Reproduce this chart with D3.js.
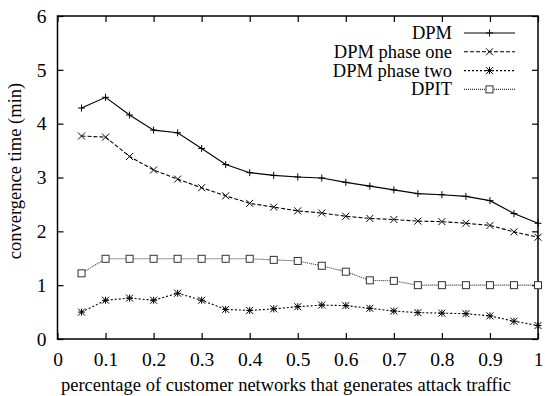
<!DOCTYPE html>
<html>
<head>
<meta charset="utf-8">
<script src="https://cdn.jsdelivr.net/npm/d3@7"></script>
<style>
  body { margin: 0; background: #fff; }
  svg { display: block; font-family: "Liberation Serif", "DejaVu Serif", serif; }
</style>
</head>
<body>
<svg id="chart" width="545" height="396"></svg>
<script>
// data
const xValues = [0.05, 0.1, 0.15, 0.2, 0.25, 0.3, 0.35, 0.4, 0.45, 0.5,
                 0.55, 0.6, 0.65, 0.7, 0.75, 0.8, 0.85, 0.9, 0.95, 1.0];
const dpm = [4.29, 4.49, 4.16, 3.88, 3.83, 3.54, 3.24, 3.09, 3.04, 3.01,
             2.99, 2.91, 2.84, 2.77, 2.70, 2.68, 2.65, 2.57, 2.33, 2.15];
const dpmPhaseOne = [3.77, 3.75, 3.39, 3.14, 2.97, 2.81, 2.66, 2.52, 2.45, 2.38,
                     2.34, 2.28, 2.24, 2.22, 2.19, 2.18, 2.15, 2.11, 1.99, 1.89];
const dpmPhaseTwo = [0.50, 0.72, 0.76, 0.72, 0.85, 0.72, 0.55, 0.53, 0.56, 0.60,
                     0.63, 0.62, 0.57, 0.52, 0.49, 0.48, 0.47, 0.43, 0.33, 0.25];
const dpit = [1.22, 1.49, 1.49, 1.49, 1.49, 1.49, 1.49, 1.49, 1.47, 1.45,
              1.36, 1.25, 1.09, 1.08, 1.0, 1.0, 1.0, 1.0, 1.0, 1.0];
const xTicks = [0, 0.1, 0.2, 0.3, 0.4, 0.5, 0.6, 0.7, 0.8, 0.9, 1];
const yTicks = [0, 1, 2, 3, 4, 5, 6];

const series = [
    { name: "DPM", values: dpm, dash: null, marker: "plus", color: "#000" },
    { name: "DPM phase one", values: dpmPhaseOne, dash: "4,2", marker: "cross", color: "#000" },
    { name: "DPM phase two", values: dpmPhaseTwo, dash: "2,2", marker: "star", color: "#000" },
    { name: "DPIT", values: dpit, dash: "1,1", marker: "square", color: "#333" },
];

const svg = d3.select("#chart");
const margin = { left: 57.5, right: 7, top: 16, bottom: 57 };
const width = +svg.attr("width");
const height = +svg.attr("height");

const x = d3.scaleLinear().domain([0, 1]).range([margin.left, width - margin.right]);
const y = d3.scaleLinear().domain([0, 6]).range([height - margin.bottom, margin.top]);

// axes with inward ticks on all four sides
const tickLen = 6;
svg.append("g")
    .attr("transform", `translate(0,${y(0)})`)
    .call(d3.axisBottom(x).tickValues(xTicks).tickSize(-tickLen).tickPadding(13)
        .tickFormat(d => d === 0 || d === 1 ? d3.format("d")(d) : d3.format(".1f")(d)))
    .call(g => g.select(".domain").remove());
svg.append("g")
    .attr("transform", `translate(0,${y(6)})`)
    .call(d3.axisTop(x).tickValues(xTicks).tickSize(-tickLen).tickFormat(""))
    .call(g => g.select(".domain").remove());
svg.append("g")
    .attr("transform", `translate(${x(0)},0)`)
    .call(d3.axisLeft(y).tickValues(yTicks).tickSize(-tickLen).tickPadding(11).tickFormat(d3.format("d")))
    .call(g => g.select(".domain").remove());
svg.append("g")
    .attr("transform", `translate(${x(1)},0)`)
    .call(d3.axisRight(y).tickValues(yTicks).tickSize(-tickLen).tickFormat(""))
    .call(g => g.select(".domain").remove());

svg.selectAll(".tick line").attr("stroke", "#000").attr("stroke-width", 1.2);
svg.selectAll(".tick text")
    .attr("font-family", "Liberation Serif, serif")
    .attr("font-size", 19.5)
    .attr("fill", "#000");

svg.append("rect")
    .attr("x", x(0)).attr("y", y(6))
    .attr("width", x(1) - x(0)).attr("height", y(0) - y(6))
    .attr("fill", "none").attr("stroke", "#000").attr("stroke-width", 1.5);

// axis titles
svg.append("text")
    .attr("x", 286)
    .attr("y", 391)
    .attr("text-anchor", "middle")
    .attr("font-size", 18.5)
    .text("percentage of customer networks that generates attack traffic");

svg.append("text")
    .attr("transform", `translate(21,171) rotate(-90)`)
    .attr("text-anchor", "middle")
    .attr("font-size", 18.5)
    .text("convergence time (min)");

function drawMarker(g, type, cx, cy, color) {
    const s = 3.5;
    if (type === "plus" || type === "star") {
        g.append("line").attr("x1", cx - s).attr("x2", cx + s).attr("y1", cy).attr("y2", cy).attr("stroke", color);
        g.append("line").attr("x1", cx).attr("x2", cx).attr("y1", cy - s).attr("y2", cy + s).attr("stroke", color);
    }
    if (type === "cross" || type === "star") {
        g.append("line").attr("x1", cx - s).attr("x2", cx + s).attr("y1", cy - s).attr("y2", cy + s).attr("stroke", color);
        g.append("line").attr("x1", cx - s).attr("x2", cx + s).attr("y1", cy + s).attr("y2", cy - s).attr("stroke", color);
    }
    if (type === "square") {
        g.append("rect").attr("x", cx - 3.5).attr("y", cy - 3.5).attr("width", 7).attr("height", 7)
            .attr("fill", "#fff").attr("stroke", color);
    }
}

const line = d3.line().x((d, i) => x(xValues[i])).y(d => y(d));

series.forEach(s => {
    const g = svg.append("g");
    g.append("path")
        .datum(s.values)
        .attr("d", line)
        .attr("fill", "none")
        .attr("stroke", s.color)
        .attr("stroke-width", 1.1)
        .attr("stroke-dasharray", s.dash);
    s.values.forEach((v, i) => drawMarker(g, s.marker, x(xValues[i]), y(v), s.color));
});

// legend
const legend = svg.append("g");
series.forEach((s, i) => {
    const ly = 33 + i * 18.8;
    legend.append("text")
        .attr("x", 452).attr("y", ly + 6)
        .attr("text-anchor", "end")
        .attr("font-size", 18.5)
        .text(s.name);
    legend.append("line")
        .attr("x1", 464).attr("x2", 515).attr("y1", ly).attr("y2", ly)
        .attr("stroke", s.color).attr("stroke-width", 1.1)
        .attr("stroke-dasharray", s.dash);
    drawMarker(legend, s.marker, 489.5, ly, s.color);
});
</script>
</body>
</html>
